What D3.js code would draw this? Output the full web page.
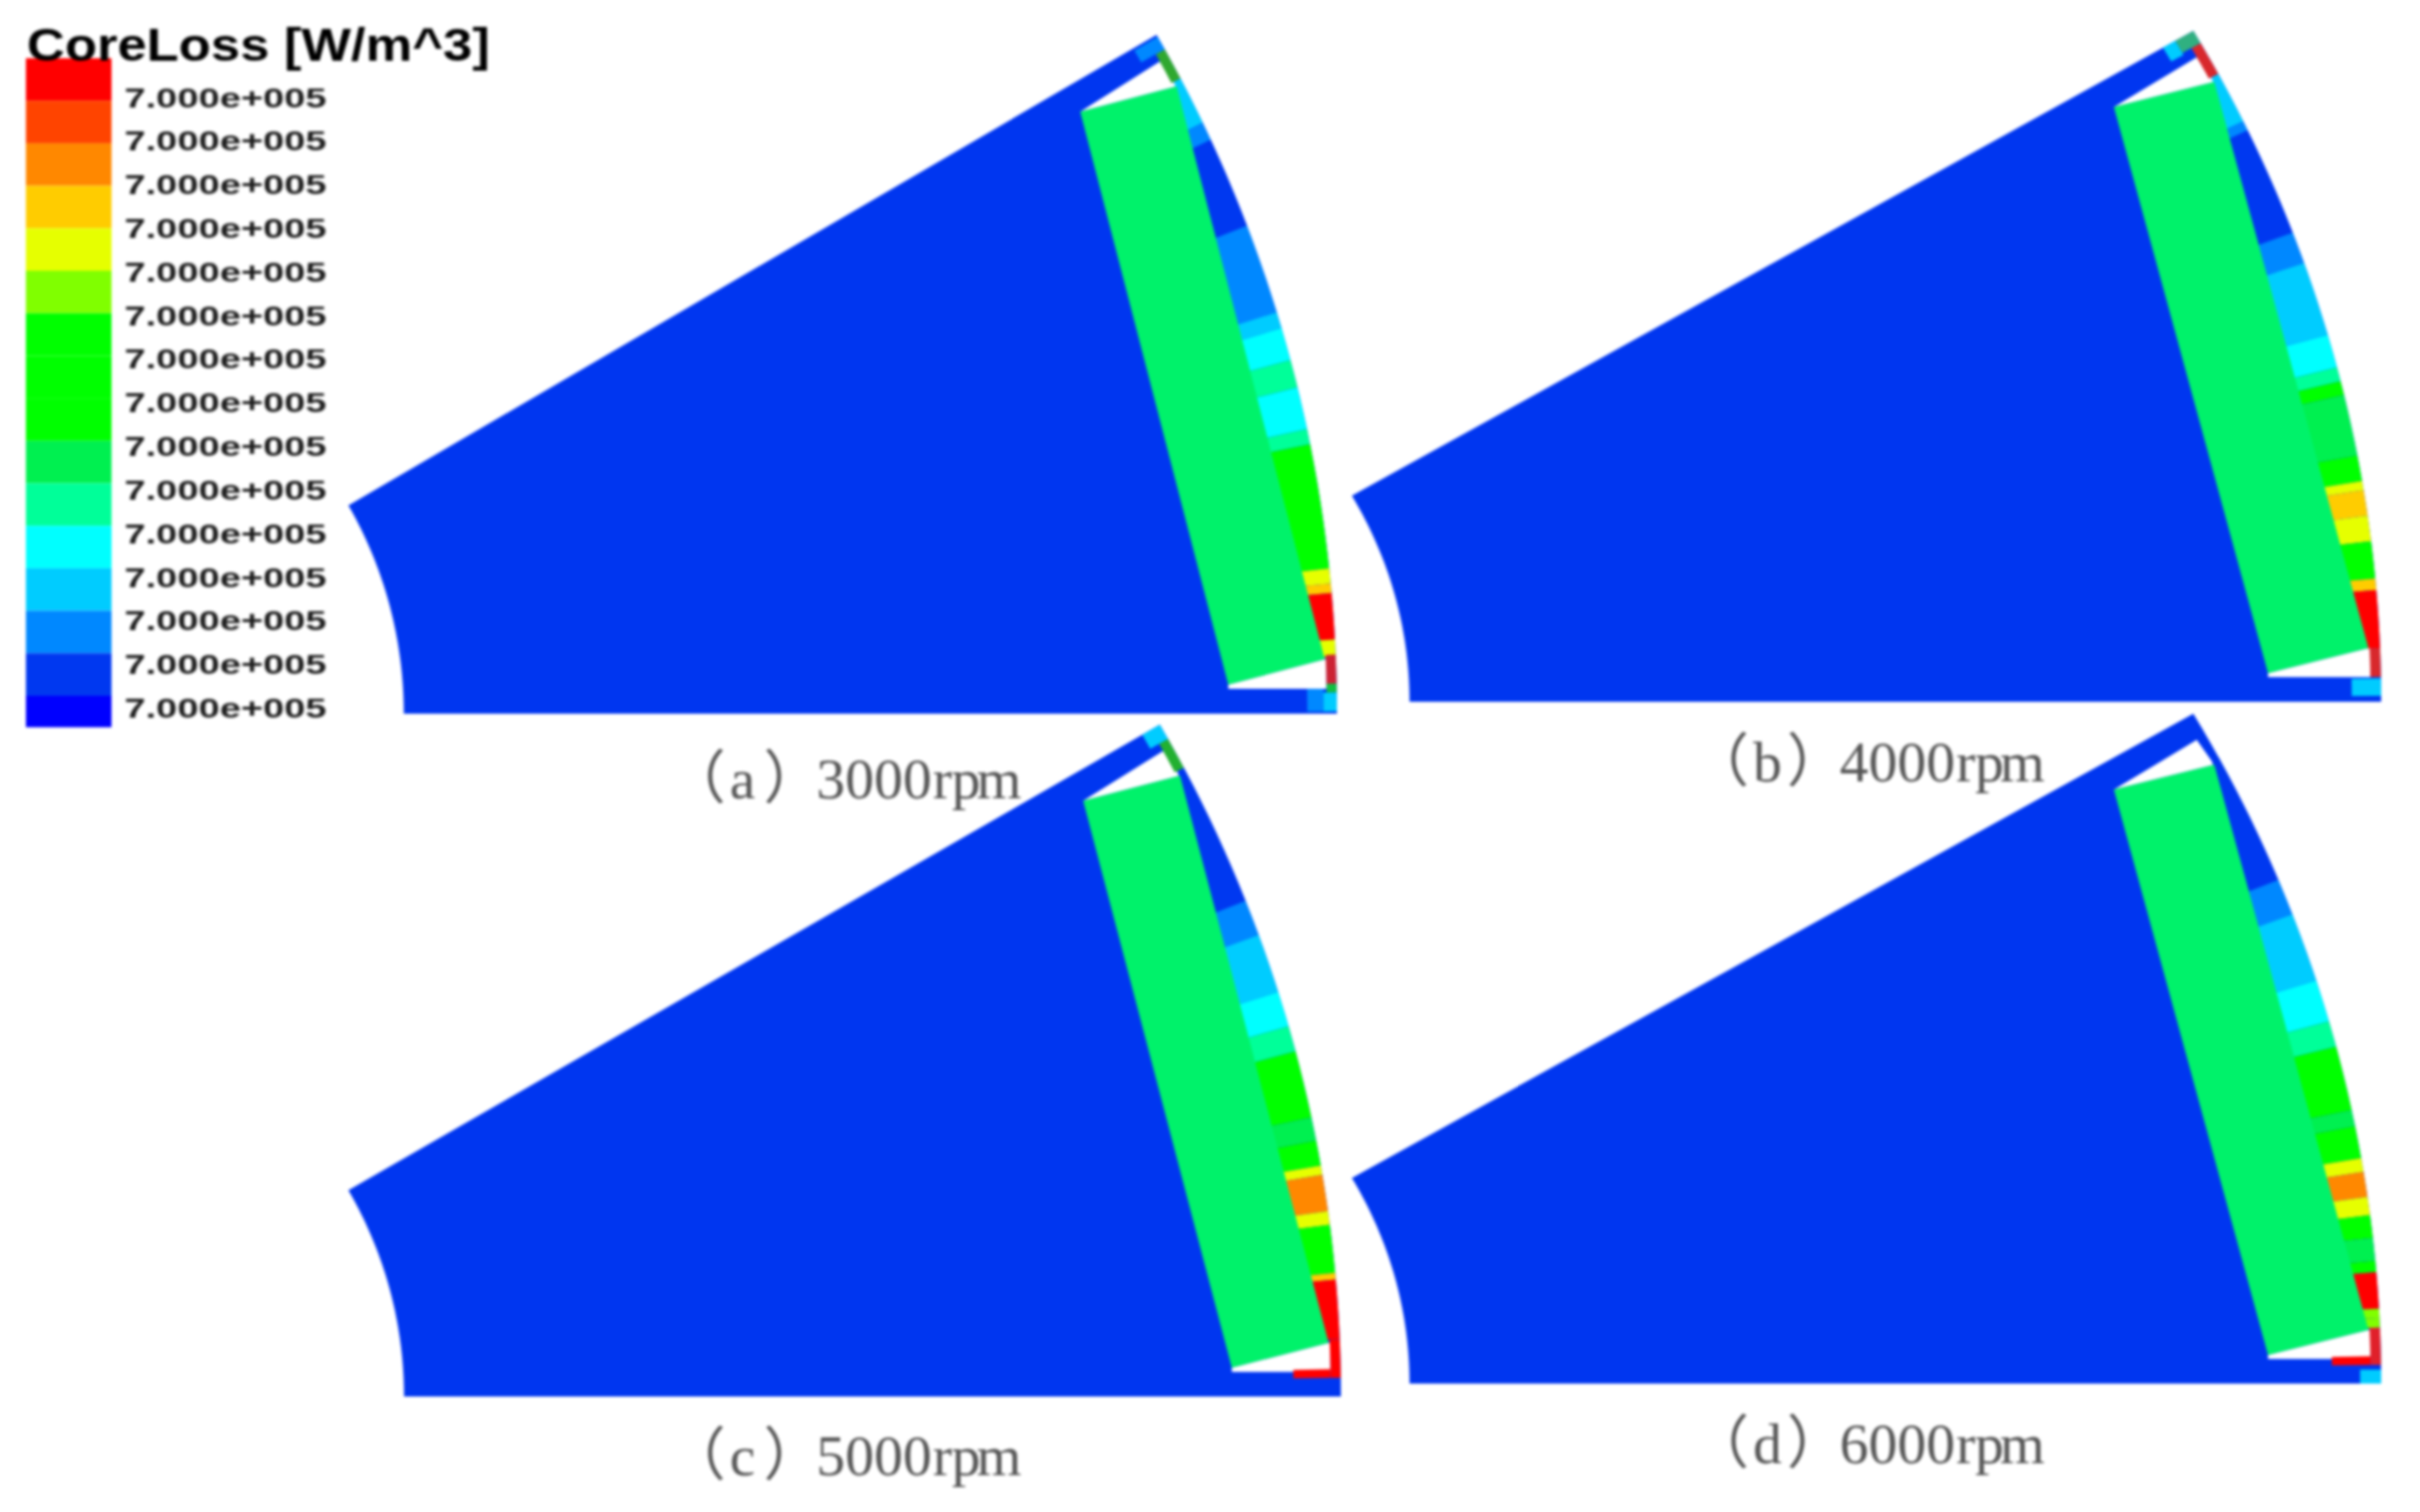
<!DOCTYPE html>
<html><head><meta charset="utf-8">
<script src="https://cdn.jsdelivr.net/npm/d3@7"></script>
<style>html,body{margin:0;padding:0;background:#fff}svg{display:block;filter:blur(1.7px)}</style>
</head><body><div id="chart"></div>
<script>
// ---------- data ----------
const legendTitle = "CoreLoss [W/m^3]";
const legendLabels = Array.from({length:15}, () => "7.000e+005");
const legendColors = ["#ff0000","#ff4400","#ff8800","#ffcc00","#e6ff00","#80ff00","#00ff00","#00ff00","#00ff00","#00f050","#00ff99","#00ffff","#00ccff","#0088ff","#0038f0","#0000ff"];
const legendEdges = [0,1,2,3,4,5,6,7,8,9,10,11,12,13,14,15,15.74];
const captions = ["（a） 3000rpm","（b） 4000rpm","（c） 5000rpm","（d） 6000rpm"];

// Model of the 30-degree sector: radii relative to the outer radius, angles in degrees
const innerRadius = 0.307;
const sectorAngle = 30;
const magnetDepth = [0.895, 0.969];
const magnetSpan = [-0.211, 0.225];
const magnetAxis = 14.6;
const bridgeRadius = 0.9925;
const ribTop = 0.0183;
const notchAngleTop = 28.95;

// Field bands in the strip outside the magnet: band edges (deg) and legend level of each band
const stripEdgesA = [27.9,25.8,25.0,21.06,17.2,16.5,15.1,13.9,12.1,11.45,6.14,5.5,5.1,3.13,2.4];
const stripLevelsA = [12,13,14,13,12,11,10,11,10,6,4,3,0,4];
const stripEdgesB = [27.9,25.63,25.2,20.46,19.09,15.87,14.43,13.82,13.21,10.58,9.47,9.07,7.97,6.87,5.27,4.78,2.3];
const stripLevelsB = [12,13,14,13,12,11,10,6,9,6,4,3,4,6,3,0];
const stripEdgesC = [27.9,21.65,20.09,17.52,16.0,14.88,11.98,10.99,9.9,9.5,7.93,7.34,5.28,4.99,2.45];
const stripLevelsC = [14,13,12,11,10,6,9,6,4,2,4,6,3,0];
const stripEdgesD = [27.9,22.08,20.5,17.51,15.69,14.57,11.77,11.08,9.69,9.09,8.01,7.22,6.24,5.26,4.77,3.21,2.81,2.4];
const stripLevelsD = [14,13,12,11,10,6,9,6,4,2,4,6,9,6,0,5,5];

// Small bridge / rib cells: [r0, r1, angle0, angle1, colour]
const cellsA = [[.9925,1,27.9,29.3,"#2fa82f"],[.98,1,29.3,29.9,"#0088ff"],
  [.9925,1,1.27,2.5,"#cc2233"],[.978,.99,.1,1.06,"#0088ff"],[.99,1,.1,.9,"#00ccff"],[.9925,1,.9,1.27,"#10c040"]];
const cellsB = [[.9925,1,27.9,29.4,"#d8282c"],[.985,1,29.4,30,"#30b080"],[.975,.985,29.3,30,"#00ccff"],
  [.9925,1,1.06,2.3,"#d8282c"],[.979,1,.25,1,"#00ccff"]];
const cellsC = [[.9925,1,27.9,29.3,"#22b030"],[.985,1,29.3,30,"#00ccff"],
  [.9925,1,.8,2.45,"#ff0000"],[.965,.9925,.8,1.18,"#ff0000"]];
const cellsD = [[.9925,1,.8,2.4,"#e0202a"],[.965,.9925,.8,1.18,"#ff0000"],[.985,1,0,.6,"#00ccff"]];

const stripEdges = [stripEdgesA,stripEdgesB,stripEdgesC,stripEdgesD];
const stripLevels = [stripLevelsA,stripLevelsB,stripLevelsC,stripLevelsD];
const cellSets = [cellsA,cellsB,cellsC,cellsD];

// ---------- layout ----------
const W = 2431, H = 1519;
const rotorColor = "#0036f0", magnetColor = "#00f26a";
const panelBoxes = [
  {x:[350,1343],  y:[717,35],   cap:[707,802]},
  {x:[1358,2392], y:[705,31],   cap:[1735,785]},
  {x:[350,1347],  y:[1403,728], cap:[707,1482]},
  {x:[1358,2392], y:[1390,717], cap:[1735,1470]}
];
const captionOffsets = [-36,26,60,100,113,142,171,200,230,249,274];
const svg = d3.select("#chart").append("svg").attr("width",W).attr("height",H).attr("viewBox",`0 0 ${W} ${H}`);
svg.append("rect").attr("width",W).attr("height",H).attr("fill","#fff");

const rad = d => d*Math.PI/180;
const polar = (r,a) => [r*Math.cos(rad(a)), r*Math.sin(rad(a))];
const magnetPoint = (d,t) => [d*Math.cos(rad(magnetAxis)) - t*Math.sin(rad(magnetAxis)),
                              d*Math.sin(rad(magnetAxis)) + t*Math.cos(rad(magnetAxis))];
const arc = (r,a0,a1,n=40) => d3.range(n+1).map(i => polar(r, a0+(a1-a0)*i/n));
const tipX = polar(innerRadius,sectorAngle)[0];

panelBoxes.forEach((box,i) => {
  const x = d3.scaleLinear().domain([tipX,1]).range(box.x);
  const y = d3.scaleLinear().domain([0,Math.sin(rad(sectorAngle))]).range(box.y);
  const line = d3.line().x(d=>x(d[0])).y(d=>y(d[1]));
  const g = svg.append("g").attr("class","panel");
  const poly = (pts,fill) => g.append("path").attr("d",line(pts)+"Z").attr("fill",fill);

  // rotor sector
  poly([...arc(innerRadius,0,sectorAngle),...arc(1,sectorAngle,0)], rotorColor);

  const [dIn,dOut] = magnetDepth, [tLo,tHi] = magnetSpan;
  const TL = magnetPoint(dIn,tHi), TR = magnetPoint(dOut,tHi), BL = magnetPoint(dIn,tLo), BR = magnetPoint(dOut,tLo);
  const notchTop = polar(bridgeRadius,notchAngleTop);
  const notchBottom = polar(bridgeRadius,Math.asin(ribTop/bridgeRadius)*180/Math.PI);

  // air pockets at the magnet ends
  poly([TL,notchTop,TR],"#fff");
  poly([BL,BR,[notchBottom[0],BR[1]],notchBottom,[BL[0],ribTop]],"#fff");

  // outer strip bands
  const edges = stripEdges[i], levels = stripLevels[i];
  const innerR = a => dOut/Math.cos(rad(a-magnetAxis));
  levels.forEach((lv,k) => {
    const a0 = edges[k], a1 = edges[k+1];
    const inner = d3.range(9).map(j => { const a=a0+(a1-a0)*j/8; return polar(innerR(a)-0.001,a); });
    poly([...inner,...arc(1,a1,a0,8)], legendColors[lv]);
  });

  // bridge / rib cells
  cellSets[i].forEach(([r0,r1,a0,a1,c]) => {
    poly([...arc(r0,a0,a1,6),...arc(r1,a1,a0,6)], c);
  });

  // magnet
  poly([TL,TR,BR,BL], magnetColor);

  // caption
  svg.append("text")
    .attr("x",captionOffsets.map(o=>box.cap[0]+o).join(" ")).attr("y",box.cap[1])
    .attr("font-family","'Liberation Serif','Noto Sans CJK SC',serif").attr("font-size",58)
    .attr("fill","#555").text(captions[i]);
});

// ---------- legend ----------
const legendY = d3.scaleLinear().domain([0,15]).range([58.5,699]);
const legend = svg.append("g").attr("class","legend");
legend.selectAll("rect").data(legendColors).join("rect")
  .attr("x",26).attr("width",86)
  .attr("y",(d,i)=>legendY(legendEdges[i]))
  .attr("height",(d,i)=>legendY(legendEdges[i+1])-legendY(legendEdges[i]))
  .attr("fill",d=>d);
const labelY = d3.scaleLinear().domain([0,14]).range([107.5,721]);
legend.selectAll("text.lab").data(legendLabels).join("text").attr("class","lab")
  .attr("x",125).attr("y",(d,i)=>labelY(i))
  .attr("textLength",203).attr("lengthAdjust","spacingAndGlyphs")
  .attr("font-family","'Liberation Sans',sans-serif").attr("font-weight",700).attr("font-size",28)
  .attr("fill","#1c1c1c").text(d=>d);
svg.append("text").attr("x",27).attr("y",61).attr("textLength",465).attr("lengthAdjust","spacingAndGlyphs")
  .attr("font-family","'Liberation Sans',sans-serif").attr("font-weight",700).attr("font-size",46)
  .attr("fill","#000").text(legendTitle);
</script></body></html>
